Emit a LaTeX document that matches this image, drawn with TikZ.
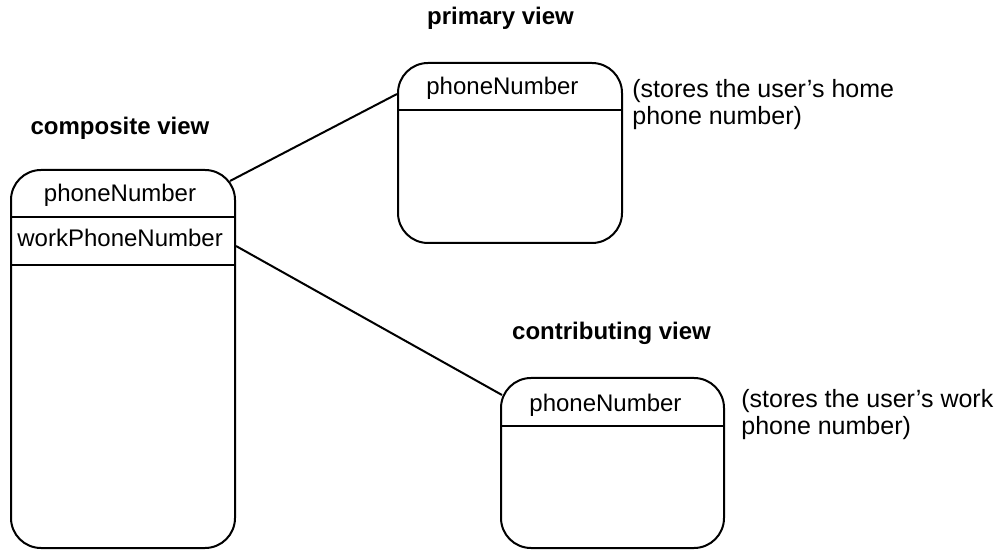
\documentclass[tikz,border=0pt]{standalone}
\usepackage{fontspec}
\setmainfont{Liberation Sans}
\usetikzlibrary{calc}
\begin{document}
\begin{tikzpicture}[x=0.5pt,y=-0.5pt,
  viewbox/.style={draw, line width=1pt, rounded corners=15pt, inner sep=0pt},
  title/.style={font=\fontsize{12}{14}\selectfont\bfseries, anchor=base, inner sep=0pt},
  field/.style={font=\fontsize{12}{14}\selectfont, anchor=base west, inner sep=0pt},
  note/.style={font=\fontsize{12.5}{13.5}\selectfont, align=left, anchor=north west, inner sep=0pt},
  link/.style={line width=1pt},
  divider/.style={line width=1pt}]
\useasboundingbox (0,0) rectangle (1001,550);

% view boxes
\node[viewbox, minimum width=112pt, minimum height=189pt] (comp) at (123,359) {};
\node[viewbox, minimum width=112pt, minimum height=90pt] (prim) at (510,153) {};
\node[viewbox, minimum width=111.5pt, minimum height=85pt] (contr) at (612.5,463) {};

% dividers
\draw[divider] ($(comp.north west)+(0,48)$) -- ($(comp.north east)+(0,48)$);
\draw[divider] ($(comp.north west)+(0,96)$) -- ($(comp.north east)+(0,96)$);
\draw[divider] ($(prim.north west)+(0,48)$) -- ($(prim.north east)+(0,48)$);
\draw[divider] ($(contr.north west)+(0,49)$) -- ($(contr.north east)+(0,49)$);

% titles
\node[title] (tcomp) at (120,135) {composite view};
\node[title] (tprim) at (500.5,25) {primary view};
\node[title] (tcontr) at (611.5,340) {contributing view};

% fields
\node[field, anchor=base] (cphone) at (120,202) {phoneNumber};
\node[field] (cwork) at (17,247) {workPhoneNumber};
\node[field] (pphone) at (426,95) {phoneNumber};
\node[field] (kphone) at (529,412) {phoneNumber};

% notes
\node[note] (pnote) at (632,79) {(stores the user’s home\\phone number)};
\node[note] (knote) at (741,389) {(stores the user’s work\\phone number)};

% links
\draw[link] ($(comp.north east)+(-6,12)$) -- ($(prim.north west)+(0,32)$);
\draw[link] ($(comp.north east)+(0,77)$) -- ($(contr.north west)+(2,18)$);
\end{tikzpicture}
\end{document}
